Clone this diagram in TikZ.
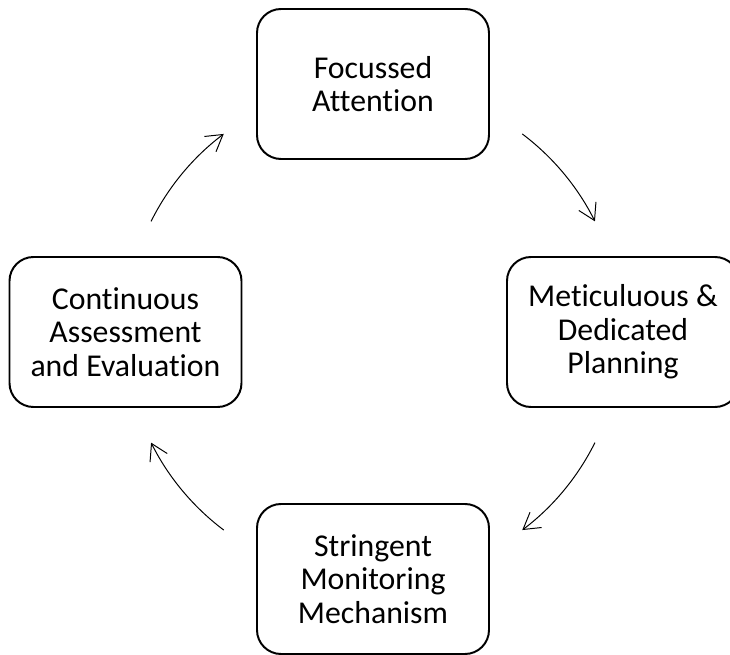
\documentclass[tikz,border=0pt]{standalone}
\usepackage{fontspec}
\setmainfont{Carlito}[RawFeature={-liga;-clig;-calt;-dlig}]
\usepackage{tikz}
\usetikzlibrary{arrows.meta}

\begin{document}
\begin{tikzpicture}[
  stage/.style={draw, line width=1.4pt, rounded corners=0.6cm, minimum width=5.8cm,
    minimum height=3.75cm, align=center, font=\fontsize{22.6}{23.8}\selectfont},
  cyc/.style={line width=0.7pt, -{Straight Barb[length=4mm,width=4.8mm]}}
]
\useasboundingbox (0,0) rectangle (18.25,16.375);
\clip (0,0) rectangle (18.25,16.375);
\coordinate (ctr) at (9.325,8.075);

\node[stage] (focus) at (9.325,14.275) {Focussed\\Attention};
\node[stage] (plan) at (15.575,8.075) {Meticuluous \&\\Dedicated\\Planning};
\node[stage] (monitor) at (9.325,1.9) {Stringent\\Monitoring\\Mechanism};
\node[stage] (assess) at (3.1375,8.075) {Continuous\\Assessment\\and Evaluation};

\draw[cyc] ([shift={(53:6.2)}]ctr) arc[start angle=53, end angle=26.5, radius=6.2];
\draw[cyc] ([shift={(-26.5:6.2)}]ctr) arc[start angle=-26.5, end angle=-53, radius=6.2];
\draw[cyc] ([shift={(233:6.2)}]ctr) arc[start angle=233, end angle=206.5, radius=6.2];
\draw[cyc] ([shift={(153.5:6.2)}]ctr) arc[start angle=153.5, end angle=127, radius=6.2];
\end{tikzpicture}
\end{document}
